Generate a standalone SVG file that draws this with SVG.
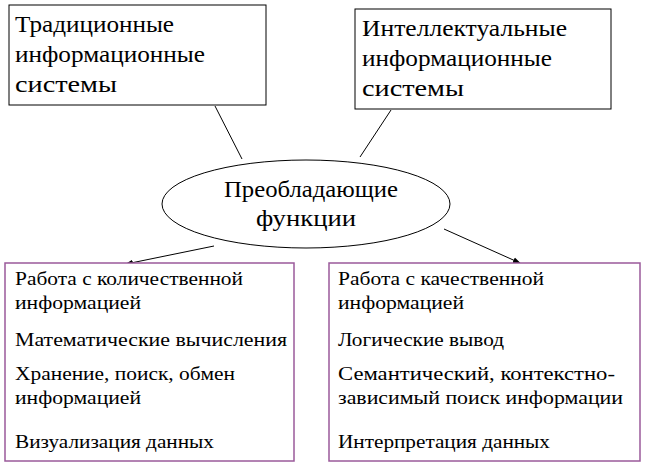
<svg xmlns="http://www.w3.org/2000/svg" width="652" height="475" viewBox="0 0 652 475" font-family="Liberation Serif, DejaVu Serif, serif">
<style>
text{fill:#000}
.t{font-size:24px}
.s{font-size:19px}
.b{fill:#fff;stroke:#000;stroke-width:1}
.p{fill:#fff;stroke:#9a5a9a;stroke-width:1.5}
.c{stroke:#000;stroke-width:1;fill:none}
</style>
<defs><marker id="a" markerWidth="8" markerHeight="8" refX="7" refY="4" orient="auto" markerUnits="userSpaceOnUse"><path d="M0,1 L8,4 L0,7z" fill="#000"/></marker></defs>
<rect width="652" height="475" fill="#fff"/>
<g id="connectors">
<line class="c" x1="215" y1="106" x2="242" y2="159"/>
<line class="c" x1="391" y1="110" x2="360" y2="157"/>
<line class="c" x1="214" y1="246" x2="126" y2="264" marker-end="url(#a)"/>
<line class="c" x1="444" y1="229" x2="520" y2="263" marker-end="url(#a)"/>
</g>
<g id="trad"><rect class="b" x="9" y="5" width="257" height="100"/>
<text class="t" x="15" y="32" textLength="159" lengthAdjust="spacingAndGlyphs">Традиционные</text><text class="t" x="15" y="62" textLength="190" lengthAdjust="spacingAndGlyphs">информационные</text><text class="t" x="15" y="92" textLength="102" lengthAdjust="spacingAndGlyphs">системы</text></g>
<g id="intel"><rect class="b" x="355" y="9" width="256" height="100"/>
<text class="t" x="362" y="36" textLength="205" lengthAdjust="spacingAndGlyphs">Интеллектуальные</text><text class="t" x="362" y="66" textLength="190" lengthAdjust="spacingAndGlyphs">информационные</text><text class="t" x="362" y="96" textLength="102" lengthAdjust="spacingAndGlyphs">системы</text></g>
<g id="func"><ellipse class="b" cx="306" cy="204" rx="144" ry="44"/>
<text class="t" x="224" y="197" textLength="174" lengthAdjust="spacingAndGlyphs">Преобладающие</text><text class="t" x="256" y="226" textLength="100" lengthAdjust="spacingAndGlyphs">функции</text></g>
<g id="left"><rect class="p" x="5" y="263" width="289" height="198"/>
<text class="s" x="15" y="285" textLength="228" lengthAdjust="spacingAndGlyphs">Работа с количественной</text>
<text class="s" x="15" y="309" textLength="126" lengthAdjust="spacingAndGlyphs">информацией</text>
<text class="s" x="15" y="346" textLength="272" lengthAdjust="spacingAndGlyphs">Математические  вычисления</text>
<text class="s" x="15" y="380" textLength="220" lengthAdjust="spacingAndGlyphs">Хранение, поиск, обмен</text>
<text class="s" x="15" y="404" textLength="126" lengthAdjust="spacingAndGlyphs">информацией</text>
<text class="s" x="15" y="448" textLength="199" lengthAdjust="spacingAndGlyphs">Визуализация данных</text></g>
<g id="right"><rect class="p" x="329" y="263" width="311" height="198"/>
<text class="s" x="338" y="285" textLength="206" lengthAdjust="spacingAndGlyphs">Работа с качественной</text>
<text class="s" x="338" y="309" textLength="126" lengthAdjust="spacingAndGlyphs">информацией</text>
<text class="s" x="338" y="346" textLength="166" lengthAdjust="spacingAndGlyphs">Логические вывод</text>
<text class="s" x="338" y="380" textLength="277" lengthAdjust="spacingAndGlyphs">Семантический, контекстно-</text>
<text class="s" x="338" y="404" textLength="285" lengthAdjust="spacingAndGlyphs">зависимый  поиск информации</text>
<text class="s" x="338" y="448" textLength="212" lengthAdjust="spacingAndGlyphs">Интерпретация данных</text></g>
</svg>
